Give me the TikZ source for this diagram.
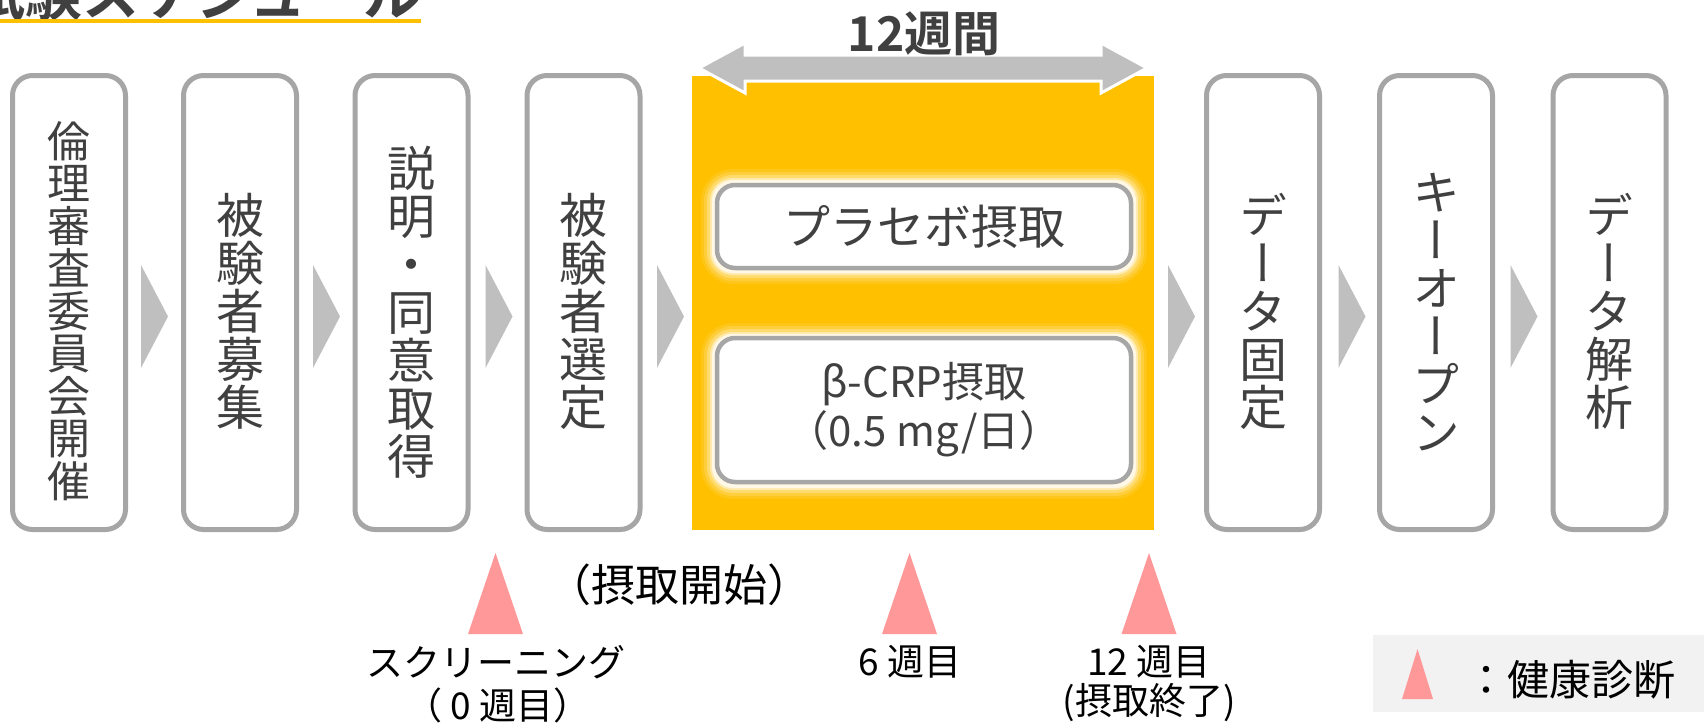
\documentclass[tikz,border=0pt]{standalone}
\usepackage{fontspec}
\setmainfont{Noto Sans CJK JP}[BoldFont={Noto Sans CJK JP Bold}]
\newfontfamily\vjp{Noto Sans CJK JP}[RawFeature={+vert}]
\usetikzlibrary{calc}
\definecolor{ygold}{HTML}{FFC000}
\definecolor{boxline}{HTML}{A6A6A6}
\definecolor{chevgray}{HTML}{BFBFBF}
\definecolor{pinktri}{HTML}{FF9999}
\definecolor{txtgray}{HTML}{404040}
\definecolor{legbg}{HTML}{F2F2F2}
\newcommand\chevat[1]{\fill[chevgray] (#1-13.5,265) -- (#1+13.5,316.5) -- (#1-13.5,368) -- cycle;}
\newcommand\vfontbig{\vjp\fontsize{48}{48}\selectfont\lineskiplimit=-60pt\relax\lineskip=0pt\relax}
\newcommand\vfontsmall{\vjp\fontsize{43}{42.5}\selectfont\lineskiplimit=-60pt\relax\lineskip=0pt\relax}
\begin{document}
\begin{tikzpicture}[x=1pt,y=-1pt,
  obox/.style={draw=boxline, line width=5pt, fill=white, rounded corners=20pt,
    minimum width=113pt, minimum height=454pt, inner sep=0pt},
  ibox/.style={draw=boxline, line width=4.5pt, fill=white, rounded corners=18pt,
    minimum width=414pt, inner sep=0pt, text=txtgray, align=center},
  vtxt/.style={inner sep=0pt, align=center, text=txtgray, font=\vfontbig},
  vtxtsmall/.style={inner sep=0pt, align=center, text=txtgray, font=\vfontsmall},
  lbl/.style={inner sep=0pt, text=black, font=\fontsize{37}{41}\selectfont},
  tri/.style={fill=pinktri}
]
\useasboundingbox (0,0) rectangle (1704,724);
\fill[white] (0,0) rectangle (1704,724);

% title
\node[anchor=base east, inner sep=0pt, font=\bfseries\fontsize{57}{60}\selectfont, text=txtgray] (title) at (421,15) {試験スケジュール};
\coordinate (ul0) at (0,21);
\coordinate (ul1) at (421,21);
\draw[ygold, line width=4.5pt] (ul0) -- (ul1);

% yellow period box
\fill[ygold] (692,76) rectangle (1154,530);
\coordinate (ybox) at (923,303);

% 12 weeks double arrow
\coordinate (al) at (699,68);
\coordinate (ar) at (1147,68);
\filldraw[fill=chevgray, draw=white, line width=3pt, line join=miter]
  (al) -- (745,43) -- (745,55) -- (1101,55) -- (1101,43) -- (ar)
  -- (1101,93) -- (1101,81) -- (745,81) -- (745,93) -- cycle;
\node[inner sep=0pt, font=\bfseries\fontsize{48}{50}\selectfont, text=txtgray] (w12) at (924,34) {12週間};

% glow around inner boxes
\foreach \w/\o in {28/0.10,22/0.15,16/0.25,10/0.45,6/0.7}{
  \draw[white, line width=\w pt, opacity=\o, rounded corners=18pt] (715,183) rectangle (1133,270);
  \draw[white, line width=\w pt, opacity=\o, rounded corners=18pt] (715,337) rectangle (1133,485);
}
\node[ibox, minimum height=83pt, font=\fontsize{47}{56}\selectfont] (plac) at (924,226.5) {プラセボ摂取};
\node[ibox, minimum height=144pt, font=\fontsize{42}{49}\selectfont] (bcrp) at (924,410) {β-CRP摂取\\（0.5 mg/日）};

% process boxes
\node[obox] (b1) at (69,302.5) {};
\node[obox] (b2) at (240,302.5) {};
\node[obox] (b3) at (411.5,302.5) {};
\node[obox] (b4) at (583.5,302.5) {};
\node[obox] (b6) at (1263,302.5) {};
\node[obox] (b7) at (1436,302.5) {};
\node[obox] (b8) at (1609.5,302.5) {};

\node[vtxtsmall] (t1) at (69,311) {倫\\理\\審\\査\\委\\員\\会\\開\\催};
\node[vtxt] (t2) at (240,311) {被\\験\\者\\募\\集};
\node[vtxt] (t3) at (411.5,312) {説\\明\\・\\同\\意\\取\\得};
\node[vtxt] (t4) at (583.5,311) {被\\験\\者\\選\\定};
\node[vtxt] (t6) at (1263,311) {デ\\ー\\タ\\固\\定};
\node[vtxt] (t7) at (1436,312) {キ\\ー\\オ\\ー\\プ\\ン};
\node[vtxt] (t8) at (1609.5,311) {デ\\ー\\タ\\解\\析};

% chevrons between steps
\chevat{154.5}
\chevat{326.5}
\chevat{499}
\chevat{670.5}
\chevat{1181.5}
\chevat{1352}
\chevat{1524}

% health check markers
\coordinate (m1) at (495.5,553);
\coordinate (m2) at (909.5,553);
\coordinate (m3) at (1149,553);
\fill[tri] (m1) -- ++(27.5,81) -- ++(-55,0) -- cycle;
\fill[tri] (m2) -- ++(27.5,81) -- ++(-55,0) -- cycle;
\fill[tri] (m3) -- ++(27.5,81) -- ++(-55,0) -- cycle;

\node[inner sep=0pt, text=black, font=\fontsize{44}{48}\selectfont] (start) at (679,585) {（摂取開始）};
\node[lbl] (l1a) at (496,662) {スクリーニング};
\node[lbl] (l1b) at (498,705) {（ 0 週目）};
\node[lbl] (l2a) at (910,662) {6 週目};
\node[lbl] (l3a) at (1149,662) {12 週目};
\node[lbl] (l3b) at (1149,703) {(摂取終了)};

% legend
\fill[legbg] (1373,635) rectangle (1704,712);
\coordinate (lg) at (1417.5,649);
\fill[tri] (lg) -- ++(15.5,50) -- ++(-31,0) -- cycle;
\node[anchor=west, inner sep=0pt, text=black, font=\fontsize{42}{46}\selectfont] (legtxt) at (1465,680) {：健康診断};
\end{tikzpicture}
\end{document}
